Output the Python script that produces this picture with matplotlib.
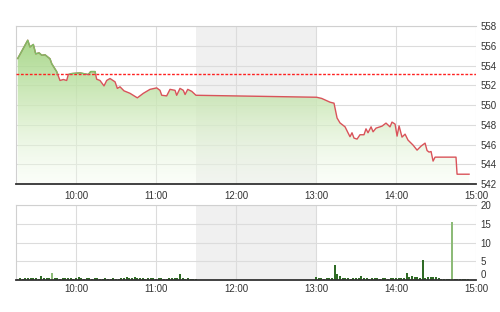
import numpy as np
import matplotlib
matplotlib.use("Agg")
import matplotlib.pyplot as plt
from matplotlib.colors import LinearSegmentedColormap
from matplotlib.patches import Rectangle

plt.rcParams['font.family'] = ['Liberation Sans', 'DejaVu Sans']

# time in minutes after 9:00
price_t = [16.3, 23.8, 25.5, 28.0, 29.8, 32.3, 34.3, 36.8, 40.5, 41.8, 45.5, 48, 50.5, 53,
           54.2, 56.8, 63, 69.2, 71, 74.3, 75.5, 78, 81, 83, 85.5, 89.3, 91, 93, 96, 100.5,
           106, 110.5, 115.5, 120.5, 123, 124.3, 128, 130.5, 134.3, 135.5, 138, 140.5, 141.8,
           143.8, 146.8, 150, 240.5, 244.3, 250.5, 253.5, 255.8, 258, 261.8, 264, 265.5, 267,
           268.5, 270.8, 273, 276, 277.5, 279, 281.3, 282.8, 285, 289.5, 292.5, 295.5, 297,
           299.3, 300.8, 302.3, 304.5, 306.8, 309, 312.8, 315.8, 318.8, 321.8, 323.3, 324.8,
           326.3, 327.8, 329.3, 345, 345.8, 354.8]
price = [554.73, 556.58, 555.9, 556.15, 555.2, 555.3, 555.06, 555.1, 554.7, 554.2, 553.4,
         552.5, 552.6, 552.5, 553.1, 553.2, 553.27, 553.1, 553.4, 553.4, 552.63, 552.5, 551.95,
         552.5, 552.7, 552.36, 551.7, 551.86, 551.45, 551.2, 550.74, 551.2, 551.6, 551.75,
         551.5, 551.0, 550.94, 551.6, 551.5, 551.0, 551.7, 551.5, 551.08, 551.6, 551.4, 551.0,
         550.8, 550.68, 550.3, 550.2, 548.7, 548.2, 547.8, 547.2, 546.8, 547.2, 546.66, 546.56,
         547.0, 547.0, 547.6, 547.2, 547.8, 547.3, 547.67, 547.87, 548.18, 547.8, 548.28,
         548.08, 546.86, 547.9, 546.76, 547.06, 546.46, 545.95, 545.44, 545.85, 546.15, 545.4,
         545.24, 545.3, 544.33, 544.73, 544.73, 543.0, 543.0]
prev_close = 553.13

# volume, one bar every 2 minutes
vol_am_t = list(range(16, 152, 2))
vol_am = [0.3, 0.4, 0.3, 0.5, 0.4, 0.6, 0.4, 0.5, 0.3, 1.1, 0.5, 0.4, 0.6, 2.0, 0.4, 0.5,
          0.3, 0.4, 0.5, 0.6, 0.4, 0.3, 0.5, 0.7, 0.4, 0.3, 0.4, 0.5, 0.3, 0.4, 0.4, 0.3,
          0.3, 0.4, 0.3, 0.3, 0.4, 0.3, 0.3, 0.4, 0.5, 0.7, 0.5, 0.4, 0.9, 0.5, 0.6, 0.4,
          0.3, 0.5, 0.4, 0.4, 0.3, 0.4, 0.5, 0.3, 0.3, 0.4, 0.5, 0.4, 0.6, 1.5, 0.4, 0.3,
          0.4, 0.3, 0.3, 0.2]
vol_pm_t = list(range(240, 356, 2))
vol_pm = [0.8, 0.4, 0.5, 0.3, 0.4, 0.5, 0.4, 4.0, 1.6, 1.0, 0.6, 0.4, 0.5, 0.3, 0.4, 0.6,
          0.4, 1.1, 0.5, 0.4, 0.3, 0.6, 0.4, 0.5, 0.3, 0.4, 0.5, 0.3, 0.4, 0.4, 0.5, 0.6,
          0.4, 0.5, 1.8, 0.9, 1.0, 0.7, 0.8, 0.6, 5.3, 0.5, 0.8, 0.9, 0.7, 0.9, 0.6, 0.3,
          0.2, 0.3, 0.3, 15.5, 0.3, 0.2, 0.3, 0.2, 0.3, 0.2]
light_bars = [42, 342]

hour_ticks = [60, 120, 180, 240, 300, 360]
hour_labels = ['10:00', '11:00', '12:00', '13:00', '14:00', '15:00']
lunch = (150, 240)

fig = plt.figure(figsize=(5, 3.12), dpi=100)
ax = fig.add_axes([0.032, 0.410, 0.920, 0.506])
axv = fig.add_axes([0.032, 0.1026, 0.920, 0.240])

grid_c = '#dcdcdc'
for a in (ax, axv):
    a.set_xlim(15, 360)
    a.axvspan(*lunch, color='#f0f0f0', zorder=0, lw=0)
    a.set_xticks(hour_ticks)
    a.set_xticklabels(hour_labels)
    a.yaxis.tick_right()
    a.tick_params(length=0, labelsize=7, colors='#333333', pad=3)
    a.grid(True, color=grid_c, lw=0.8, zorder=0.5)
    for s in ('left', 'top', 'right'):
        a.spines[s].set_color('#d0d0d0')
        a.spines[s].set_linewidth(0.8)
    a.spines['right'].set_visible(False)
    a.spines['bottom'].set_color('#333333')
    a.spines['bottom'].set_linewidth(1.3)
    a.set_axisbelow(True)

# price panel
ax.set_ylim(542, 558)
ax.set_yticks(range(542, 559, 2))
ax.tick_params(axis='x', pad=5)

cmap = LinearSegmentedColormap.from_list(
    'g', [(0.96, 0.99, 0.94, 0.35), (0.80, 0.91, 0.72, 0.8), (0.58, 0.81, 0.44, 0.9)])
grad = np.linspace(0, 1, 256).reshape(-1, 1)
img = ax.imshow(grad, cmap=cmap, aspect='auto', origin='lower',
                extent=[15, 360, 542, 558], zorder=1)
poly = ax.fill_between(price_t, price, 542, color='none', lw=0)
img.set_clip_path(poly.get_paths()[0], transform=ax.transData)

ax.axhline(prev_close, color='#ff2020', lw=1, ls=(0, (2, 1.2)), zorder=3)
ax.plot(price_t, price, color='#d9535a', lw=1, zorder=4)
gl, = ax.plot(price_t, price, color='#7cc066', lw=1, zorder=4)
gl.set_clip_path(Rectangle((15, prev_close), 345, 10, transform=ax.transData))

# volume panel
axv.set_ylim(0, 20)
axv.set_yticks([0, 5, 10, 15, 20])
for lab in axv.get_yticklabels():
    if lab.get_text() == '0':
        lab.set_verticalalignment('bottom')
vt = vol_am_t + vol_pm_t
vv = vol_am + vol_pm
cols = ['#8dbb78' if t in light_bars else '#2f6b25' for t in vt]
axv.bar(vt, vv, width=1.3, color=cols, zorder=2, lw=0)

fig.savefig('out.png', dpi=100)
